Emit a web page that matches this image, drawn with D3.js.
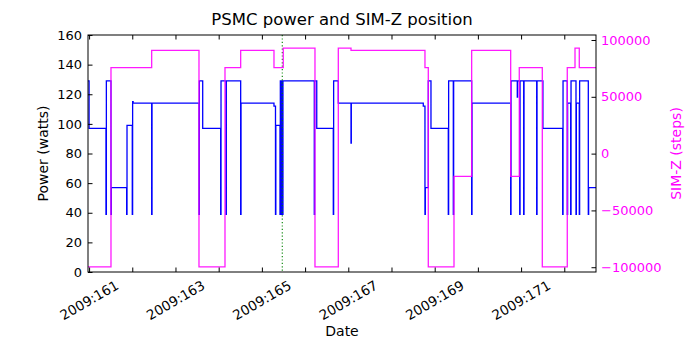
<!DOCTYPE html>
<html>
<head>
<meta charset="utf-8">
<script src="https://cdn.jsdelivr.net/npm/d3@7"></script>
<style>
  html, body { margin: 0; padding: 0; background: #fff; }
  text { font-family: "DejaVu Sans", sans-serif; }
</style>
</head>
<body>
<svg id="chart" width="700" height="350"></svg>
<script>
// ---- Data (day-of-year 2009, fractional) ----
const powerTimes = [
  160.975, 161.0, 161.391, 161.40, 161.507, 161.515, 161.870, 161.878, 162.000, 162.008, 162.02,
  162.449, 162.457, 163.544, 163.552, 163.630, 164.046, 164.054, 164.169, 164.177, 164.509, 164.517,
  165.280, 165.315, 165.323, 165.419, 165.427, 165.44, 165.448, 165.46, 165.468, 165.48, 165.488,
  166.213, 166.221, 166.27, 166.653, 166.661, 166.769, 167.063, 167.07, 168.736, 168.775, 168.783,
  168.852, 168.914, 169.315, 169.323, 169.431, 169.439, 169.856, 169.864, 170.759, 170.767, 170.912,
  170.92, 170.968, 170.976, 171.060, 171.068, 171.361, 171.369, 171.505, 171.963, 171.971, 172.069,
  172.077, 172.148, 172.156, 172.271, 172.279, 172.347, 172.355, 172.556, 172.564, 172.734
];
const powerValues = [
  129, 97, 39, 129, 39, 57, 39, 99, 39, 115, 114,
  39, 114, 39, 129, 97, 39, 129, 39, 129, 39, 114,
  112, 39, 99, 39, 129, 39, 129, 39, 129, 39, 129,
  39, 129, 97, 39, 129, 114, 87, 114, 112, 39, 57,
  129, 97, 39, 129, 39, 129, 39, 114, 39, 129, 118,
  129, 39, 129, 39, 129, 39, 129, 97, 39, 129, 39,
  114, 39, 129, 39, 114, 39, 129, 39, 57, 57
];
const simzTimes = [
  160.975, 161.507, 162.449, 163.544, 164.146, 164.509, 165.280, 165.495, 166.229, 166.769,
  167.063, 168.775, 168.852, 169.447, 169.856, 170.759, 170.958, 171.491, 172.069, 172.248,
  172.347, 172.734
];
const simzValues = [
  -99616, 75624, 90800, -99616, 75624, 90800, 75624, 92904, -99616, 92904,
  90800, 75624, -99616, -20000, 90800, -20000, 75624, -99616, 75624, 92904,
  75624, 75624
];
const xTickDays = [161, 162, 163, 164, 165, 166, 167, 168, 169, 170, 171, 172];
const xTickLabels = ["2009:161", "", "2009:163", "", "2009:165", "", "2009:167", "", "2009:169", "", "2009:171", ""];
const powerTicks = [0, 20, 40, 60, 80, 100, 120, 140, 160];
const simzTicks = [-100000, -50000, 0, 50000, 100000];
const markerDay = 165.472;

// ---- Layout ----
const svg = d3.select("#chart");
const pL = 88, pR = 596, pT = 35, pB = 272;

const x = d3.scaleLinear().domain([160.975, 172.734]).range([pL, pR]);
const yP = d3.scaleLinear().domain([0, 160]).range([pB, pT]);
const yZ = d3.scaleLinear().domain([-104200, 104400]).range([pB, pT]);

const blue = "#0000ff", magenta = "#ff00ff";
const tickLen = 4.5;

svg.append("defs").append("clipPath").attr("id", "plotclip")
  .append("rect").attr("x", pL).attr("y", pT).attr("width", pR - pL).attr("height", pB - pT);

// Lines
const g = svg.append("g").attr("clip-path", "url(#plotclip)");
const powerData = powerTimes.map((t, i) => [t, powerValues[i]]);
const simzData = simzTimes.map((t, i) => [t, simzValues[i]]);

g.append("path")
  .attr("d", d3.line().x(d => x(d[0])).y(d => yP(d[1])).curve(d3.curveStepAfter)(powerData))
  .attr("fill", "none").attr("stroke", blue).attr("stroke-width", 1.3);

g.append("line")
  .attr("x1", x(markerDay)).attr("x2", x(markerDay))
  .attr("y1", pT).attr("y2", pB)
  .attr("stroke", "#008000").attr("stroke-width", 1.1).attr("stroke-dasharray", "1.2,2.2");

g.append("path")
  .attr("d", d3.line().x(d => x(d[0])).y(d => yZ(d[1])).curve(d3.curveStepAfter)(simzData))
  .attr("fill", "none").attr("stroke", magenta).attr("stroke-width", 1.3).attr("stroke-opacity", 0.9);

// Axes (ticks inward)
const axB = d3.axisBottom(x).tickValues(xTickDays).tickSizeInner(-tickLen).tickSizeOuter(0).tickFormat("");
const axT = d3.axisTop(x).tickValues(xTickDays).tickSizeInner(-tickLen).tickSizeOuter(0).tickFormat("");
const axL = d3.axisLeft(yP).tickValues(powerTicks).tickSizeInner(-tickLen).tickSizeOuter(0).tickPadding(6);
const axR = d3.axisRight(yZ).tickValues(simzTicks).tickSizeInner(-tickLen).tickSizeOuter(0).tickPadding(5)
  .tickFormat(d => d < 0 ? "\u2212" + Math.abs(d) : String(d));

const gB = svg.append("g").attr("transform", `translate(0,${pB})`).call(axB);
const gT = svg.append("g").attr("transform", `translate(0,${pT})`).call(axT);
const gL = svg.append("g").attr("transform", `translate(${pL},0)`).call(axL);
const gR = svg.append("g").attr("transform", `translate(${pR},0)`).call(axR);

[gB, gT, gL, gR].forEach(a => { a.select(".domain").remove(); a.selectAll("line").attr("stroke", "#000"); });
gL.selectAll("text").attr("font-size", 13).attr("fill", "#000").attr("font-family", "DejaVu Sans");
gR.selectAll("text").attr("font-size", 13).attr("fill", magenta).attr("font-family", "DejaVu Sans");

// X tick labels rotated, centered on tick
svg.append("g").selectAll("text")
  .data(xTickDays.map((d, i) => [d, xTickLabels[i]]).filter(d => d[1] !== ""))
  .join("text")
  .attr("transform", d => `translate(${x(d[0])},300) rotate(-30)`)
  .attr("text-anchor", "middle").attr("dominant-baseline", "central")
  .attr("font-size", 13.5).attr("fill", "#000")
  .text(d => d[1]);

// Frame
svg.append("rect").attr("x", pL).attr("y", pT).attr("width", pR - pL).attr("height", pB - pT)
  .attr("fill", "none").attr("stroke", "#000").attr("stroke-width", 1);

// Titles / labels
svg.append("text").attr("x", (pL + pR) / 2).attr("y", 25).attr("text-anchor", "middle")
  .attr("font-size", 16.5).attr("fill", "#000").text("PSMC power and SIM-Z position");
svg.append("text").attr("x", (pL + pR) / 2).attr("y", 336).attr("text-anchor", "middle")
  .attr("font-size", 14).attr("fill", "#000").text("Date");
svg.append("text").attr("transform", `translate(48,${(pT + pB) / 2}) rotate(-90)`).attr("text-anchor", "middle")
  .attr("font-size", 14).attr("fill", "#000").text("Power (watts)");
svg.append("text").attr("transform", `translate(681,${(pT + pB) / 2}) rotate(-90)`).attr("text-anchor", "middle")
  .attr("font-size", 14).attr("fill", magenta).text("SIM-Z (steps)");
</script>
</body>
</html>
